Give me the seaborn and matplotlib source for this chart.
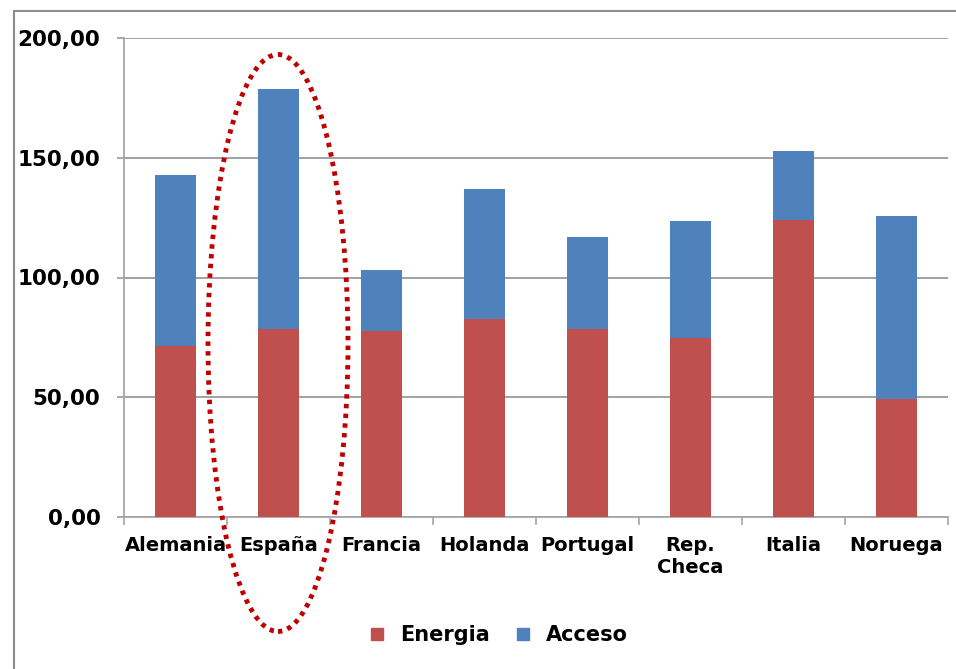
import seaborn as sns
import pandas as pd
import matplotlib.pyplot as plt
from matplotlib.patches import Ellipse, Rectangle
from matplotlib.lines import Line2D
from matplotlib.ticker import FuncFormatter

paises = ["Alemania", "España", "Francia", "Holanda", "Portugal", "Rep.\nCheca", "Italia", "Noruega"]
energia = [71.5, 78.5, 77.7, 82.7, 78.3, 74.7, 124.0, 49.2]
acceso = [71.3, 100.2, 25.4, 54.3, 38.7, 49.0, 28.8, 76.6]

color_energia = "#C0504D"
color_acceso = "#4F81BD"

df = pd.DataFrame({"pais": paises, "Energia": energia, "Acceso": acceso})
df["total"] = df["Energia"] + df["Acceso"]

sns.set_style("white")
plt.rcParams["font.family"] = ["DejaVu Sans"]
plt.rcParams["font.weight"] = "bold"
plt.rcParams["text.color"] = "black"
plt.rcParams["xtick.labelcolor"] = "black"
plt.rcParams["ytick.labelcolor"] = "black"

fig = plt.figure(figsize=(9.56, 6.69), dpi=100)
ax = fig.add_axes([124 / 956, 1 - 517 / 669, 824 / 956, 479 / 669])

# stacked bars: total (acceso on top) then energia over it
sns.barplot(data=df, x="pais", y="total", color=color_acceso, width=0.39,
            saturation=1, linewidth=0, ax=ax, zorder=3)
sns.barplot(data=df, x="pais", y="Energia", color=color_energia, width=0.39,
            saturation=1, linewidth=0, ax=ax, zorder=4)

ax.set_ylim(0, 200)
ax.set_xlim(-0.5, len(paises) - 0.5)
ax.set_yticks([0, 50, 100, 150, 200])
ax.yaxis.set_major_formatter(FuncFormatter(lambda v, p: f"{v:.2f}".replace(".", ",")))
ax.set_xlabel("")
ax.set_ylabel("")

ax.yaxis.grid(True, color="#9a9a9a", linewidth=1.3, zorder=0)
ax.set_axisbelow(True)
for s in ["top", "right"]:
    ax.spines[s].set_visible(False)
for s in ["left", "bottom"]:
    ax.spines[s].set_color("#a6a6a6")
    ax.spines[s].set_linewidth(1.3)

ax.tick_params(axis="y", which="major", left=True, length=5, width=1.2,
               color="#9a9a9a", pad=12, labelsize=15.5)
ax.set_xticks(range(len(paises)))
ax.set_xticklabels(paises, fontsize=14, fontweight="bold", linespacing=1.2)
ax.set_xticks([i - 0.5 for i in range(len(paises) + 1)], minor=True)
ax.tick_params(axis="x", which="major", length=0, pad=14)
ax.tick_params(axis="x", which="minor", bottom=True, length=6, width=1.2, color="#a6a6a6")
for t in ax.get_yticklabels():
    t.set_fontweight("bold")

handles = [
    Line2D([], [], marker="s", linestyle="", markersize=9, color=color_energia, label="Energia"),
    Line2D([], [], marker="s", linestyle="", markersize=9, color=color_acceso, label="Acceso"),
]
fig.legend(handles=handles, loc="center", bbox_to_anchor=(492 / 956, 1 - 635 / 669),
           ncol=2, frameon=False, handletextpad=0.1, columnspacing=0.6,
           prop={"size": 15, "weight": "bold"})

# chart frame
fig.patches.append(Rectangle((14 / 956, -0.1), 1.2, 1 - 11 / 669 + 0.1,
                             transform=fig.transFigure, fill=False,
                             edgecolor="#8c8c8c", linewidth=1.5))

# highlight ellipse around España
fig.patches.append(Ellipse((278 / 956, 1 - 343 / 669), 140 / 956, 577 / 669,
                           transform=fig.transFigure, fill=False,
                           edgecolor="#C00000", linewidth=3.5,
                           linestyle=(0, (0.9, 1.1)), zorder=10))

fig.savefig("out.png", dpi=100)
